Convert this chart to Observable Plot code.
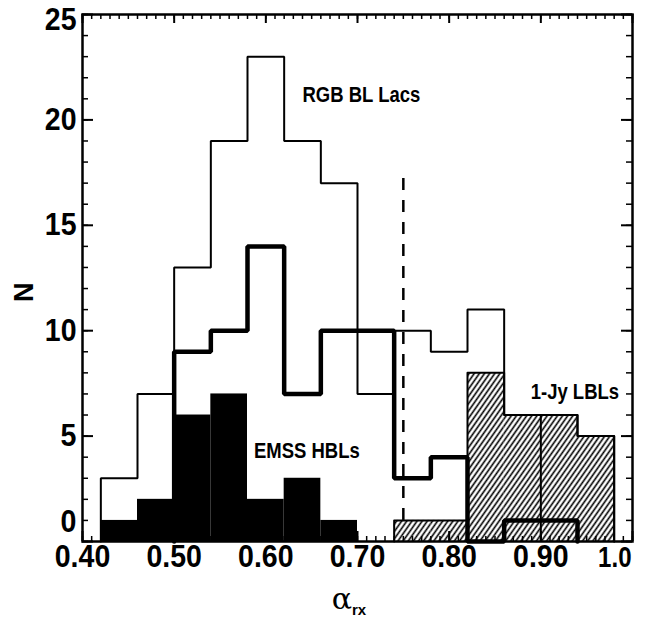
<!DOCTYPE html>
<html>
<head>
<meta charset="utf-8">
<script src="https://cdn.jsdelivr.net/npm/d3@7"></script>
<script src="https://cdn.jsdelivr.net/npm/@observablehq/plot@0.6"></script>
<style>
  html, body { margin: 0; padding: 0; background: #fff; }
  #chart svg { display: block; }
</style>
</head>
<body>
<div id="chart"></div>
<script>
// alpha_rx histograms, 0.04-wide bins (bin start values)
const binWidth = 0.04;

// RGB BL Lacs (thin outline)
const rgbStarts = [0.42, 0.46, 0.50, 0.54, 0.58, 0.62, 0.66, 0.70, 0.74, 0.78, 0.82, 0.86, 0.90, 0.94];
const rgbCounts = [3, 7, 13, 19, 23, 19, 17, 7, 10, 9, 11, 6, 6, 5];

// RGB subset (heavy outline)
const subStarts = [0.50, 0.54, 0.58, 0.62, 0.66, 0.70, 0.74, 0.78, 0.82, 0.86, 0.90];
const subCounts = [9, 10, 14, 7, 10, 10, 3, 4, 0, 1, 1];

// EMSS HBLs (solid)
const emssStarts = [0.42, 0.46, 0.50, 0.54, 0.58, 0.62, 0.66];
const emssCounts = [1, 2, 6, 7, 2, 3, 1];

// 1-Jy LBLs (hatched)
const jyStarts = [0.74, 0.78, 0.82, 0.86, 0.90, 0.94];
const jyCounts = [1, 1, 8, 6, 6, 5];
const jyDivider = 0.90;

// HBL / LBL boundary
const boundaryX = 0.75;
const boundaryTop = 17.6;
const boundaryBottom = 1;

// axes
const xDomain = [0.40, 1.0];
const yDomain = [0, 25];
const xMajor = [0.40, 0.50, 0.60, 0.70, 0.80, 0.90, 1.0];
const xTickLabels = ["0.40", "0.50", "0.60", "0.70", "0.80", "0.90", "1.0"];
const yMajor = [0, 5, 10, 15, 20, 25];
const yTickLabels = ["0", "5", "10", "15", "20", "25"];
const xMinor = d3.range(40, 101).map(v => v / 100);
const yMinor = d3.range(0, 26);

// text annotations (data coordinates)
const annotations = [
  {label: "RGB BL Lacs", x: 0.640, y: 21.2},
  {label: "EMSS HBLs",   x: 0.587, y: 4.3},
  {label: "1-Jy LBLs",   x: 0.889, y: 7.1}
];

// layout
const W = 646, H = 619;
const mTop = 14, mRight = 14, mBottom = 78, mLeft = 82;
const frameW = W - mLeft - mRight;
const frameH = H - mTop - mBottom;
const font = "'Liberation Sans', Arial, Helvetica, sans-serif";

const bins = (starts, counts) => starts.map((s, i) => ({x0: s, x1: s + binWidth, n: counts[i]}));
const steps = (starts, counts) => [
  {x: starts[0], y: 0},
  ...starts.map((s, i) => ({x: s, y: counts[i]})),
  {x: starts[starts.length - 1] + binWidth, y: 0}
];

const jyBins = bins(jyStarts, jyCounts);
const emssBins = bins(emssStarts, emssCounts);
const dividerCount = Math.min(...jyBins.filter(b => b.x0 === jyDivider || b.x1 === jyDivider).map(b => b.n));

const xLabels = xMajor.map((v, i) => ({v, t: xTickLabels[i]}));
const midLabels = yMajor.map((v, i) => ({v, t: yTickLabels[i]})).filter(d => d.v > 0 && d.v < 25);
const tickText = {fontSize: 31, fontWeight: "bold", fill: "black"};

const chart = Plot.plot({
  width: W,
  height: H,
  marginTop: mTop,
  marginRight: mRight,
  marginBottom: mBottom,
  marginLeft: mLeft,
  x: {domain: xDomain, axis: null},
  y: {domain: yDomain, axis: null},
  style: {background: "white", fontFamily: font, overflow: "visible"},
  marks: [
    // boundary line
    Plot.ruleX([boundaryX], {x: d => d, y1: boundaryBottom, y2: boundaryTop, stroke: "black", strokeWidth: 2.5, strokeDasharray: "12,10"}),
    // 1-Jy LBLs: hatched fill, outline, divider
    Plot.rect(jyBins, {x1: "x0", x2: "x1", y1: 0, y2: "n", fill: "url(#hatch)", inset: 0}),
    Plot.line(steps(jyStarts, jyCounts), {x: "x", y: "y", curve: "step-after", stroke: "black", strokeWidth: 2}),
    Plot.ruleX([jyDivider], {x: d => d, y1: 0, y2: dividerCount, stroke: "black", strokeWidth: 2}),
    // EMSS HBLs: solid bars
    Plot.rect(emssBins, {x1: "x0", x2: "x1", y1: 0, y2: "n", fill: "black", inset: 0}),
    // RGB BL Lacs: thin outline
    Plot.line(steps(rgbStarts, rgbCounts), {x: "x", y: "y", curve: "step-after", stroke: "black", strokeWidth: 2, strokeLinejoin: "miter"}),
    // RGB subset: heavy outline
    Plot.line(steps(subStarts, subCounts), {x: "x", y: "y", curve: "step-after", stroke: "black", strokeWidth: 4.5, strokeLinejoin: "miter"}),
    // frame
    Plot.frame({stroke: "black", strokeWidth: 2.5}),
    // inward ticks: bottom and top
    Plot.ruleX(xMinor, {x: d => d, insetTop: frameH - 5, stroke: "black", strokeWidth: 1.5}),
    Plot.ruleX(xMajor, {x: d => d, insetTop: frameH - 10, stroke: "black", strokeWidth: 2}),
    Plot.ruleX(xMinor, {x: d => d, insetBottom: frameH - 5, stroke: "black", strokeWidth: 1.5}),
    Plot.ruleX(xMajor, {x: d => d, insetBottom: frameH - 9, stroke: "black", strokeWidth: 2}),
    // inward ticks: left and right
    Plot.ruleY(yMinor, {y: d => d, insetRight: frameW - 6, stroke: "black", strokeWidth: 1.5}),
    Plot.ruleY(yMajor, {y: d => d, insetRight: frameW - 11, stroke: "black", strokeWidth: 2}),
    Plot.ruleY(yMinor, {y: d => d, insetLeft: frameW - 6, stroke: "black", strokeWidth: 1.5}),
    Plot.ruleY(yMajor, {y: d => d, insetLeft: frameW - 11, stroke: "black", strokeWidth: 2}),
    // x tick labels (the last one is pulled inside the page edge)
    Plot.text(xLabels.slice(0, -1), {x: "v", text: "t", frameAnchor: "bottom", dy: 25, ...tickText, className: "tick-label"}),
    Plot.text(xLabels.slice(-1), {x: "v", text: "t", frameAnchor: "bottom", dy: 25, dx: -1, textAnchor: "end", ...tickText, fontSize: 30, className: "tick-label-narrow"}),
    // y tick labels (end labels nudged inside the frame height)
    Plot.text(midLabels, {y: "v", text: "t", frameAnchor: "left", dx: -6, textAnchor: "end", ...tickText, className: "tick-label"}),
    Plot.text([yMajor[0]], {y: d => d, text: () => yTickLabels[0], frameAnchor: "left", dx: -6, dy: -19, textAnchor: "end", ...tickText, className: "tick-label"}),
    Plot.text([yMajor[yMajor.length - 1]], {y: d => d, text: () => yTickLabels[yTickLabels.length - 1], frameAnchor: "left", dx: -6, dy: 6, textAnchor: "end", ...tickText, className: "tick-label"}),
    // y axis title
    Plot.text(["N"], {text: d => d, frameAnchor: "left", dx: -58, dy: 24, rotate: -90, fontSize: 27, fontWeight: "bold", fill: "black"}),
    // annotations
    Plot.text(annotations, {x: "x", y: "y", text: "label", textAnchor: "start", fontSize: 22, fontWeight: "bold", fill: "black", className: "annot"})
  ]
});

document.getElementById("chart").appendChild(chart);

// hatch pattern for the 1-Jy bars
const svg = d3.select(chart);
const pat = svg.insert("defs", ":first-child")
  .append("pattern")
  .attr("id", "hatch")
  .attr("patternUnits", "userSpaceOnUse")
  .attr("width", 4.2)
  .attr("height", 4.2)
  .attr("patternTransform", "rotate(35)");
pat.append("line")
  .attr("x1", 2.1).attr("y1", -1).attr("x2", 2.1).attr("y2", 5.2)
  .attr("stroke", "black").attr("stroke-width", 1.6);

// x axis title: alpha with subscript rx
const xt = svg.append("text")
  .attr("x", mLeft + frameW / 2 - 8)
  .attr("y", 609)
  .attr("fill", "black");
xt.append("tspan")
  .attr("font-family", "'DejaVu Serif', 'Liberation Serif', serif")
  .attr("font-size", 30)
  .text("α");
xt.append("tspan")
  .attr("font-family", font)
  .attr("font-weight", "bold")
  .attr("font-size", 15)
  .attr("dy", 6)
  .text("rx");

// narrow the bold lettering
function condense(selector, ratio) {
  chart.querySelectorAll(selector).forEach(g => {
    g.querySelectorAll("text").forEach(t => {
      const len = t.getComputedTextLength();
      t.setAttribute("textLength", (len * ratio).toFixed(1));
      t.setAttribute("lengthAdjust", "spacingAndGlyphs");
    });
  });
}
condense(".tick-label", 0.92);
condense(".tick-label-narrow", 0.8);
condense(".annot", 0.84);
</script>
</body>
</html>
